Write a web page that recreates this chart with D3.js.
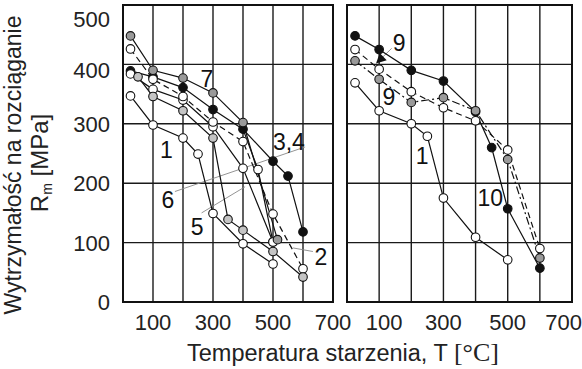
<!DOCTYPE html>
<html><head><meta charset="utf-8">
<script src="https://cdn.jsdelivr.net/npm/d3@7"></script>
<style>body{margin:0;background:#fff} svg{display:block}</style>
</head><body><svg id="c" width="582" height="369"></svg>
<script>
// ---------- data ----------
const xTickLabels = [100, 300, 500, 700];
const yTickLabels = [0, 100, 200, 300, 400, 500];
const gridX = [100, 200, 300, 400, 500, 600];
const gridY = [100, 200, 300, 400];

// left panel (T [°C], Rm [MPa])
const left1  = [[25,347],[100,298],[200,276],[250,249],[300,149],[400,98],[500,64]];
const left5  = [[50,379],[100,346],[200,322],[300,276],[350,139],[400,121],[500,85],[600,42]];
const left7  = [[25,448],[100,390],[200,377],[300,352],[400,302],[515,105]];
const left34 = [[25,389],[100,379],[200,361],[300,324],[400,291],[500,237],[550,212],[600,118]];
const left2  = [[25,426],[100,375],[200,346],[300,303],[400,270],[500,148],[600,56]];
const left6  = [[25,384],[100,358],[200,340],[300,295],[400,225],[500,101]];
const left4  = [[400,291],[450,223],[500,101]];

// right panel
const right10 = [[25,448],[100,425],[200,390],[300,372],[400,320],[450,260],[500,157],[600,57]];
const right9a = [[25,425],[100,392],[200,354],[300,327],[400,305],[500,256],[600,90]];
const right9b = [[25,406],[100,375],[200,336],[300,344],[400,322],[500,240],[600,74]];
const right1  = [[25,369],[100,322],[200,300],[250,279],[300,175],[400,109],[500,71]];

// curve labels [T, Rm, text]
const leftLabels  = [[145,256,"1"],[280,376,"7"],[553,270,"3,4"],[150,172,"6"],[247,126,"5"],[660,76,"2"]];
const rightLabels = [[162,437,"9"],[130,345,"9"],[234,246,"1"],[446,175,"10"]];
// leader lines [[T1,R1],[T2,R2]]
const leftLeaders  = [[[173,186],[607,261]], [[262,150],[407,194]], [[567,91],[633,85]]];
const rightLeaders = [[[139,427],[97,405]]];

// ---------- drawing ----------
const svg = d3.select("#c");
const FONT = "'Liberation Sans', Arial, sans-serif";
const y = d3.scaleLinear().domain([0,500]).range([302,5]);
const xL = d3.scaleLinear().domain([0,700]).range([123,333]);
const xR = d3.scaleLinear().domain([0,700]).range([347,572]);

function panel(x, series, labels, leaders) {
  const g = svg.append("g");
  g.selectAll(".gx").data(gridX).join("line")
    .attr("x1", d=>x(d)).attr("x2", d=>x(d)).attr("y1", y(0)).attr("y2", y(500))
    .attr("stroke", "#1a1a1a").attr("stroke-width", 1.4);
  g.selectAll(".gy").data(gridY).join("line")
    .attr("x1", x(0)).attr("x2", x(700)).attr("y1", d=>y(d)).attr("y2", d=>y(d))
    .attr("stroke", "#1a1a1a").attr("stroke-width", 1.4);
  g.append("rect").attr("x", x(0)).attr("y", y(500))
    .attr("width", x(700)-x(0)).attr("height", y(0)-y(500))
    .attr("fill","none").attr("stroke","#111").attr("stroke-width",2);
  g.selectAll(".ld").data(leaders).join("line")
    .attr("x1", d=>x(d[0][0])).attr("y1", d=>y(d[0][1]))
    .attr("x2", d=>x(d[1][0])).attr("y2", d=>y(d[1][1]))
    .attr("stroke","#888").attr("stroke-width",0.9);
  const line = d3.line().x(d=>x(d[0])).y(d=>y(d[1]));
  series.forEach(s => {
    g.append("path").attr("d", line(s.data)).attr("fill","none")
      .attr("stroke","#111").attr("stroke-width",1.2)
      .attr("stroke-dasharray", s.dash || null);
  });
  series.forEach(s => {
    g.selectAll(null).data(s.data.slice(s.from||0)).join("circle")
      .attr("cx", d=>x(d[0])).attr("cy", d=>y(d[1])).attr("r", 4.3)
      .attr("fill", s.fill).attr("stroke","#111").attr("stroke-width",1.1);
  });
  g.selectAll(".lab").data(labels).join("text")
    .attr("x", d=>x(d[0])).attr("y", d=>y(d[1])).attr("dy","0.36em")
    .attr("text-anchor","middle").attr("font-family",FONT).attr("font-size",23)
    .attr("fill","#111").text(d=>d[2]);
  g.selectAll(".xt").data(xTickLabels).join("text")
    .attr("x", d=>x(d)).attr("y", 330)
    .attr("text-anchor","middle").attr("font-family",FONT).attr("font-size",22)
    .attr("fill","#222").text(d=>d);
  return g;
}

const gl = panel(xL, [
  {data:left34, fill:"#111"},
  {data:left4, fill:"#fff", from:1},
  {data:left6, fill:"#fff"},
  {data:left2, fill:"#fff", dash:"6,4"},
  {data:left1, fill:"#fff"},
  {data:left5, fill:"#c4c4c4"},
  {data:left7, fill:"#9a9a9a"}
], leftLabels, leftLeaders);

const gr = panel(xR, [
  {data:right10, fill:"#111"},
  {data:right1, fill:"#fff"},
  {data:right9a, fill:"#fff", dash:"6,4"},
  {data:right9b, fill:"#9a9a9a", dash:"8,3,2,3"}
], rightLabels, rightLeaders);

const ah = rightLeaders[0][1];
gr.append("path")
  .attr("transform", `translate(${xR(ah[0])},${y(ah[1])}) rotate(${Math.atan2(y(ah[1])-y(rightLeaders[0][0][1]), xR(ah[0])-xR(rightLeaders[0][0][0]))*180/Math.PI})`)
  .attr("d","M3,0 L-7,-5 L-7,5 Z").attr("fill","#111");

gr.selectAll("text").filter(function(){return this.getAttribute("y")==="330" && this.textContent==="700";})
  .attr("text-anchor","end").attr("x", 582);
gr.selectAll("text").filter(function(){return this.getAttribute("y")==="330" && this.textContent==="100";})
  .attr("dx", 5);

svg.selectAll(".yt").data(yTickLabels).join("text")
  .attr("x", 110).attr("y", d=>y(d)).attr("dy", d=> d===500 ? "1.0em" : (d===400 ? "0.6em" : "0.36em"))
  .attr("text-anchor","end").attr("font-family",FONT).attr("font-size",22)
  .attr("fill","#222").text(d=>d);

svg.append("text").attr("transform","translate(21,165) rotate(-90)")
  .attr("text-anchor","middle").attr("font-family",FONT).attr("font-size",23)
  .attr("fill","#222").text("Wytrzymałość na rozciąganie");
const t2 = svg.append("text").attr("transform","translate(48,163) rotate(-90)")
  .attr("text-anchor","middle").attr("font-family",FONT).attr("font-size",24).attr("fill","#222");
t2.append("tspan").text("R");
t2.append("tspan").attr("font-size",14).attr("dy",4).text("m");
t2.append("tspan").attr("dy",-4).text(" [MPa]");

const xt = svg.append("text").attr("x",343).attr("y",361).attr("text-anchor","middle")
  .attr("font-family",FONT).attr("font-size",23.5).attr("fill","#222");
xt.append("tspan").text("Temperatura starzenia, T ");
xt.append("tspan").attr("font-family","'Liberation Serif','Times New Roman',serif").attr("font-size",26).text("[°C]");
</script></body></html>
